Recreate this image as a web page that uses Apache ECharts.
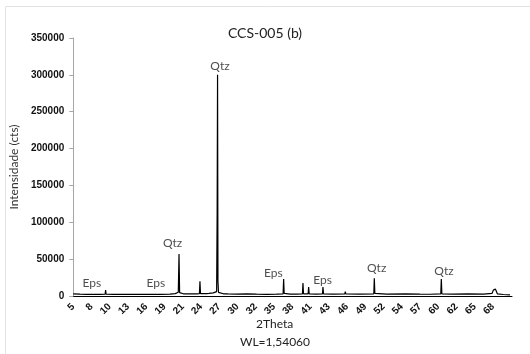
<!DOCTYPE html>
<html>
<head>
<meta charset="utf-8">
<script src="https://cdn.jsdelivr.net/npm/echarts@6/dist/echarts.min.js"></script>
<style>
  html, body { margin: 0; padding: 0; background: #fff; }
  #chart { width: 530px; height: 354px; }
</style>
</head>
<body>
<div id="chart"></div>
<script>
// XRD trace (2theta in degrees, counts)
const twoTheta = [5.0, 6.0, 7.0, 8.0, 9.0, 9.78, 9.85, 9.92, 11.0, 12.0, 13.3, 13.4, 13.5, 15.0, 16.6, 16.7, 16.8,
  18.0, 19.5, 20.3, 20.75, 20.86, 20.95, 21.5, 22.5, 23.5, 23.92, 24.0, 24.08, 25.0, 25.35, 25.4, 25.45, 26.0, 26.2, 26.5,
  26.58, 26.64, 26.7, 26.78, 27.5, 27.7, 28.2, 29.5, 31.0, 32.5, 34.0, 35.5, 36.47, 36.55, 36.63, 37.5, 38.5, 39.37,
  39.45, 39.53, 40.22, 40.3, 40.38, 41.5, 42.37, 42.45, 42.53, 44.0, 45.72, 45.8, 45.88, 48.0, 50.07, 50.15, 50.23, 52.0,
  54.82, 54.9, 54.98, 57.0, 58.5, 60.12, 60.2, 60.28, 62.0, 64.22, 64.3, 64.38, 66.5, 67.8, 68.0, 68.15, 68.3, 68.45,
  68.6, 69.5, 70.5]
const counts = [3000, 2500, 2300, 2100, 2200, 2400, 8000, 2400, 2100, 2200, 2400, 3500, 2300, 2200, 2300, 3200, 2300,
  2200, 2500, 3200, 5000, 57000, 4500, 3000, 2800, 3000, 3200, 20000, 3200, 3300, 3500, 5000, 3500, 4200, 5500, 6000,
  115000, 300000, 20000, 5000, 3000, 4500, 2800, 2500, 2800, 2500, 2300, 2500, 3000, 23000, 3500, 2600, 2500, 3000,
  17500, 3000, 2800, 12000, 3000, 2500, 2800, 12000, 3000, 2500, 2800, 6000, 2800, 2500, 3000, 24000, 3500, 2500,
  2800, 5000, 2800, 2500, 2400, 3000, 23000, 3000, 2500, 2800, 3500, 2500, 2500, 3500, 8000, 6000, 9500, 6500,
  3000, 2000, 1500]

// phase annotations: name, 2theta, counts (text centre)
const phaseNames = ['Eps', 'Eps', 'Qtz', 'Qtz', 'Eps', 'Eps', 'Qtz', 'Qtz']
const phaseX = [7.8, 17.4, 19.9, 27.0, 35.0, 42.4, 50.5, 60.6]
const phaseY = [17600, 17600, 72000, 312000, 31000, 21700, 38000, 34000]

// x tick labels (as printed)
const xTickLabels = ['5', '8', '10', '13', '16', '19', '21', '24', '27', '30', '32', '35', '38', '41', '43', '46',
  '49', '52', '54', '57', '60', '62', '65', '68']
const xTickStep = 2.737

const yTicks = { min: 0, max: 350000, interval: 50000 }

const chart = echarts.init(document.getElementById('chart'))

const traceData = twoTheta.map((t, i) => [t, counts[i]])
const phaseData = phaseNames.map((n, i) => ({ name: n, value: [phaseX[i], phaseY[i]] }))
const tickValues = xTickLabels.map((_, i) => 5 + i * xTickStep)

const option = {
  animation: false,
  backgroundColor: '#fff',
  title: {
    text: 'CCS-005 (b)',
    left: 'center',
    top: 21,
    textStyle: { fontFamily: 'Lato', fontSize: 14, fontWeight: 'normal', color: '#222' }
  },
  grid: { left: 72, right: 18, top: 38, bottom: 58 },
  xAxis: {
    type: 'value',
    min: 5,
    max: 70.8,
    splitLine: { show: false },
    axisLine: { lineStyle: { color: '#000', width: 1 } },
    axisTick: { show: false, customValues: tickValues },
    axisLabel: {
      customValues: tickValues,
      rotate: 45,
      margin: 9,
      fontFamily: 'Liberation Sans',
      fontSize: 10,
      fontWeight: 'bold',
      color: '#111',
      formatter: v => xTickLabels[Math.round((v - 5) / xTickStep)]
    }
  },
  yAxis: {
    type: 'value',
    ...yTicks,
    name: 'Intensidade (cts)',
    nameLocation: 'middle',
    nameRotate: 90,
    nameGap: 49,
    nameTextStyle: { fontFamily: 'Lato', fontSize: 12, color: '#333' },
    splitLine: { show: false },
    axisLine: { show: true, lineStyle: { color: '#a6a6a6', width: 1 } },
    axisTick: { show: true, length: 4, lineStyle: { color: '#a6a6a6' } },
    axisLabel: {
      margin: 9,
      fontFamily: 'Liberation Sans',
      fontSize: 10,
      fontWeight: 'bold',
      color: '#111',
      formatter: v => String(v)
    }
  },
  graphic: [
    {
      type: 'rect',
      silent: true,
      shape: { x: 5.5, y: 6.5, width: 600, height: 400 },
      style: { fill: 'none', stroke: '#e3e3e3', lineWidth: 1 }
    },
    {
      type: 'text',
      left: 256,
      top: 318,
      style: { text: '2Theta', font: '12px Lato', fill: '#222' }
    },
    {
      type: 'text',
      left: 240,
      top: 336,
      style: { text: 'WL=1,54060', font: '12px Lato', fill: '#222' }
    }
  ],
  series: [
    {
      type: 'line',
      data: traceData,
      showSymbol: false,
      lineStyle: { color: '#000', width: 1.2 },
      z: 3
    },
    {
      type: 'scatter',
      data: phaseData,
      symbolSize: 0,
      label: {
        show: true,
        position: 'inside',
        formatter: p => p.name,
        fontFamily: 'Lato',
        fontSize: 12,
        color: '#222'
      },
      z: 4
    }
  ]
}

chart.setOption(option)
</script>
</body>
</html>
